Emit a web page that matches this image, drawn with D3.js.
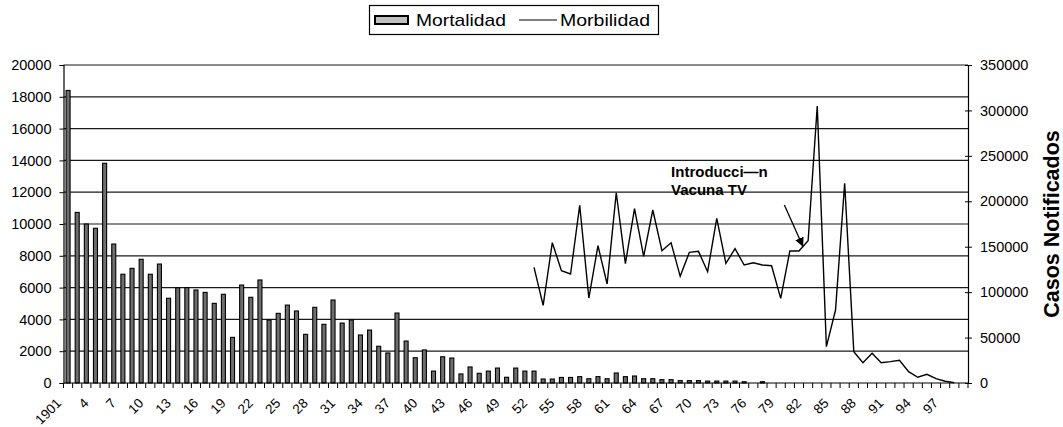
<!DOCTYPE html>
<html>
<head>
<meta charset="utf-8">
<script src="https://cdn.jsdelivr.net/npm/d3@7"></script>
<style>
  body { margin: 0; background: #fff; }
  text { font-family: "Liberation Sans", Arial, sans-serif; fill: #000; }
</style>
</head>
<body>
<div id="chart"></div>
<script>
// years 1901..1999, one category each
var years = d3.range(1901, 2000);

// deaths per year (left axis)
var mortalidad = [
  18400, 10730, 10000, 9730, 13820, 8740, 6840, 7210, 7780, 6840,
  7480, 5330, 5990, 6000, 5850, 5700, 5010, 5580, 2870, 6160,
  5390, 6480, 3960, 4380, 4900, 4530, 3060, 4760, 3690, 5220,
  3770, 3960, 3020, 3330, 2310, 1890, 4400, 2640, 1590, 2080,
  750, 1650, 1570, 570, 1010, 610, 750, 940, 360, 940,
  750, 750, 250, 250, 350, 350, 400, 270, 400, 270,
  630, 400, 440, 270, 270, 210, 210, 150, 150, 150,
  120, 120, 120, 120, 80, 0, 80, 0, 0, 0,
  0, 0, 0, 0, 0, 0, 0, 0, 0, 0,
  0, 0, 0, 0, 0, 0, 0, 0, 0
];

// notified cases (right axis), 1952..1998
var morbYears = d3.range(1952, 1999);
var morbilidad = [
  127300, 85500, 154400, 123600, 120000, 195600, 93500, 151100, 109000, 209400,
  131300, 191800, 139400, 190400, 145600, 154400, 117400, 143800, 144900, 122500,
  181300, 131700, 147800, 129900, 132400, 129900, 129100, 93200, 145300, 145300,
  156600, 304900, 40000, 80300, 219800, 34500, 22400, 32700, 22400, 23500,
  25000, 12500, 6300, 9500, 4800, 1900, 300
];

var leftTicks = d3.range(0, 20001, 2000);
var rightTicks = d3.range(0, 350001, 50000);
var labelYears = years.filter(function(d) { return (d - 1901) % 3 === 0; });

var W = 1063, H = 427;
var margin = {top: 65, right: 95, bottom: 44, left: 63.5};
var width = W - margin.left - margin.right,
    height = H - margin.top - margin.bottom;

var svg = d3.select("#chart").append("svg")
  .attr("width", W).attr("height", H);

var g = svg.append("g")
  .attr("transform", "translate(" + margin.left + "," + margin.top + ")");

var x = d3.scaleBand().domain(years).range([0, width]).padding(0);
var yL = d3.scaleLinear().domain([0, 20000]).range([height, 0]);
var yR = d3.scaleLinear().domain([0, 350000]).range([height, 0]);
var step = x.step();
function xc(yr) { return x(years[0]) + step / 2 + (yr - years[0]) * step; }

// gridlines
g.append("g").selectAll("line")
  .data(leftTicks.filter(function(d) { return d > 0; }))
  .join("line")
    .attr("x1", 0).attr("x2", width)
    .attr("y1", function(d) { return yL(d); })
    .attr("y2", function(d) { return yL(d); })
    .attr("stroke", "#1a1a1a").attr("stroke-width", 1.2);

// bars
var bw = step * 0.44;
g.append("g").selectAll("rect")
  .data(years.map(function(d, i) { return {year: d, v: mortalidad[i]}; })
             .filter(function(d) { return d.v > 0; }))
  .join("rect")
    .attr("x", function(d) { return x(d.year) + (step - bw) / 2; })
    .attr("y", function(d) { return yL(d.v); })
    .attr("width", bw)
    .attr("height", function(d) { return height - yL(d.v); })
    .attr("fill", "#6e6e6e")
    .attr("stroke", "#000")
    .attr("stroke-width", 1.1);

// line
g.append("path")
  .datum(morbYears.map(function(d, i) { return {year: d, v: morbilidad[i]}; }))
  .attr("fill", "none")
  .attr("stroke", "#000")
  .attr("stroke-width", 1.4)
  .attr("d", d3.line()
    .x(function(d) { return xc(d.year); })
    .y(function(d) { return yR(d.v); }));

// left axis
var axL = g.append("g")
  .call(d3.axisLeft(yL).tickValues(leftTicks).tickFormat(d3.format("d")).tickSize(4).tickPadding(8));
axL.selectAll("text").style("font-size", "14.5px");

// right axis
var axR = g.append("g")
  .attr("transform", "translate(" + width + ",0)")
  .call(d3.axisRight(yR).tickValues(rightTicks).tickFormat(d3.format("d")).tickSize(4).tickPadding(8));
axR.selectAll(".tick line").attr("x1", -3);
axR.selectAll("text").style("font-size", "14.5px");
g.selectAll(".domain").attr("stroke-width", 1.2);

// bottom axis
var bx = g.append("g").attr("transform", "translate(0," + height + ")");
bx.append("line").attr("x1", 0).attr("x2", width).attr("stroke", "#000").attr("stroke-width", 1.2);
bx.selectAll(".tk")
  .data(years.concat([null]))
  .join("line")
    .attr("class", "tk")
    .attr("x1", function(d) { return d === null ? width : x(d); })
    .attr("x2", function(d) { return d === null ? width : x(d); })
    .attr("y1", 0).attr("y2", 5)
    .attr("stroke", "#000");
bx.selectAll(".lb")
  .data(labelYears)
  .join("text")
    .attr("class", "lb")
    .attr("text-anchor", "end")
    .style("font-size", "13.5px")
    .attr("transform", function(d) {
      return "translate(" + (xc(d) - 6) + ",21) rotate(-45)";
    })
    .text(function(d) { return d === 1901 ? "1901" : String(d % 100); });

// right title
svg.append("text")
  .attr("transform", "translate(" + (W - 4) + "," + (margin.top + height * 0.5) + ") rotate(-90)")
  .attr("text-anchor", "middle")
  .style("font-size", "21.5px").style("font-weight", "bold")
  .text("Casos Notificados");

// annotation
var ann = g.append("g");
ann.append("text")
  .attr("x", xc(1967)).attr("y", yR(227000))
  .style("font-size", "15px").style("font-weight", "bold")
  .text("Introducci\u2014n");
ann.append("text")
  .attr("x", xc(1967)).attr("y", yR(227000) + 18)
  .style("font-size", "15px").style("font-weight", "bold")
  .text("Vacuna TV");
svg.append("defs").append("marker")
  .attr("id", "ah").attr("viewBox", "0 0 10 10")
  .attr("refX", 10).attr("refY", 5)
  .attr("markerWidth", 9).attr("markerHeight", 9)
  .attr("markerUnits", "userSpaceOnUse")
  .attr("orient", "auto")
  .append("path").attr("d", "M0,0L10,5L0,10z").attr("fill", "#000");
ann.append("line")
  .attr("x1", xc(1979.4)).attr("y1", yR(196000))
  .attr("x2", xc(1981.45)).attr("y2", yR(150000))
  .attr("stroke", "#000").attr("stroke-width", 1.3)
  .attr("marker-end", "url(#ah)");

// legend
var lg = svg.append("g");
lg.append("rect").attr("x", 369.5).attr("y", 5.5).attr("width", 289).attr("height", 29)
  .attr("fill", "#fff").attr("stroke", "#000").attr("stroke-width", 1.2);
lg.append("rect").attr("x", 375).attr("y", 16).attr("width", 33).attr("height", 8)
  .attr("fill", "#c0c0c0").attr("stroke", "#000").attr("stroke-width", 2);
lg.append("text").attr("x", 416).attr("y", 26).style("font-size", "17px")
  .attr("textLength", 90).attr("lengthAdjust", "spacingAndGlyphs").text("Mortalidad");
lg.append("line").attr("x1", 519).attr("x2", 557).attr("y1", 20).attr("y2", 20)
  .attr("stroke", "#000").attr("stroke-width", 1.2);
lg.append("text").attr("x", 560).attr("y", 26).style("font-size", "17px")
  .attr("textLength", 90).attr("lengthAdjust", "spacingAndGlyphs").text("Morbilidad");
</script>
</body>
</html>
